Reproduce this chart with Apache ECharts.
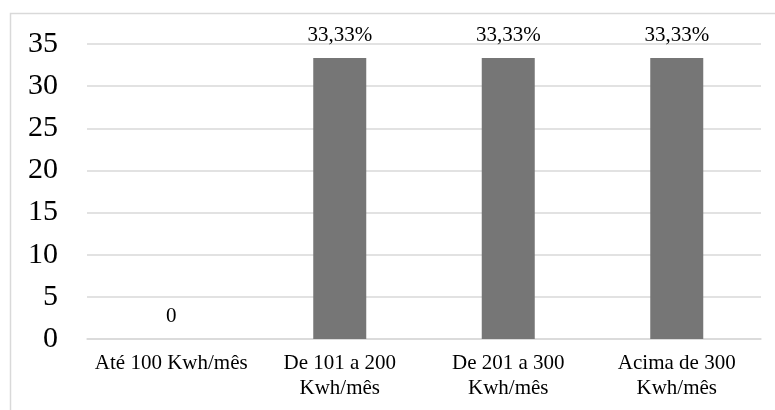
<!DOCTYPE html>
<html>
<head>
<meta charset="utf-8">
<script src="https://cdn.jsdelivr.net/npm/echarts@6/dist/echarts.min.js"></script>
<style>
html,body{margin:0;padding:0;background:#fff;}
#c{width:775px;height:410px;}
</style>
</head>
<body>
<div id="c"></div>
<script>
var categories = ['Até 100 Kwh/mês', 'De 101 a 200\nKwh/mês', 'De 201 a 300\nKwh/mês', 'Acima de 300\nKwh/mês'];
var values = [0, 33.33, 33.33, 33.33];
var valueLabels = ['0', '33,33%', '33,33%', '33,33%'];
var yTicks = [0, 5, 10, 15, 20, 25, 30, 35];

var FONT = "'Liberation Serif', 'Times New Roman', serif";
var chart = echarts.init(document.getElementById('c'));
chart.setOption({
  animation: false,
  backgroundColor: '#fff',
  graphic: [{
    type: 'rect',
    shape: {x: 10.5, y: 13.5, width: 800, height: 450},
    style: {fill: 'none', stroke: '#d9d9d9', lineWidth: 1.5},
    silent: true
  }],
  grid: {left: 87, right: 14, top: 44, bottom: 71, containLabel: false},
  xAxis: {
    type: 'category',
    data: categories,
    axisLine: {show: true, lineStyle: {color: '#d9d9d9', width: 1.5}},
    axisTick: {show: false},
    axisLabel: {
      fontFamily: FONT, fontSize: 21, color: '#000', lineHeight: 25, margin: 12, interval: 0
    }
  },
  yAxis: {
    type: 'value',
    min: yTicks[0],
    max: yTicks[yTicks.length - 1],
    interval: 5,
    axisLine: {show: false},
    axisTick: {show: false},
    splitLine: {lineStyle: {color: '#d9d9d9', width: 1.5}},
    axisLabel: {fontFamily: FONT, fontSize: 30, color: '#000', margin: 29}
  },
  series: [{
    type: 'bar',
    data: values,
    barWidth: 53,
    itemStyle: {color: '#767676'},
    label: {
      show: true,
      position: 'top',
      distance: 12,
      fontFamily: FONT,
      fontSize: 21,
      color: '#000',
      formatter: function (p) { return valueLabels[p.dataIndex]; }
    }
  }]
});
</script>
</body>
</html>
